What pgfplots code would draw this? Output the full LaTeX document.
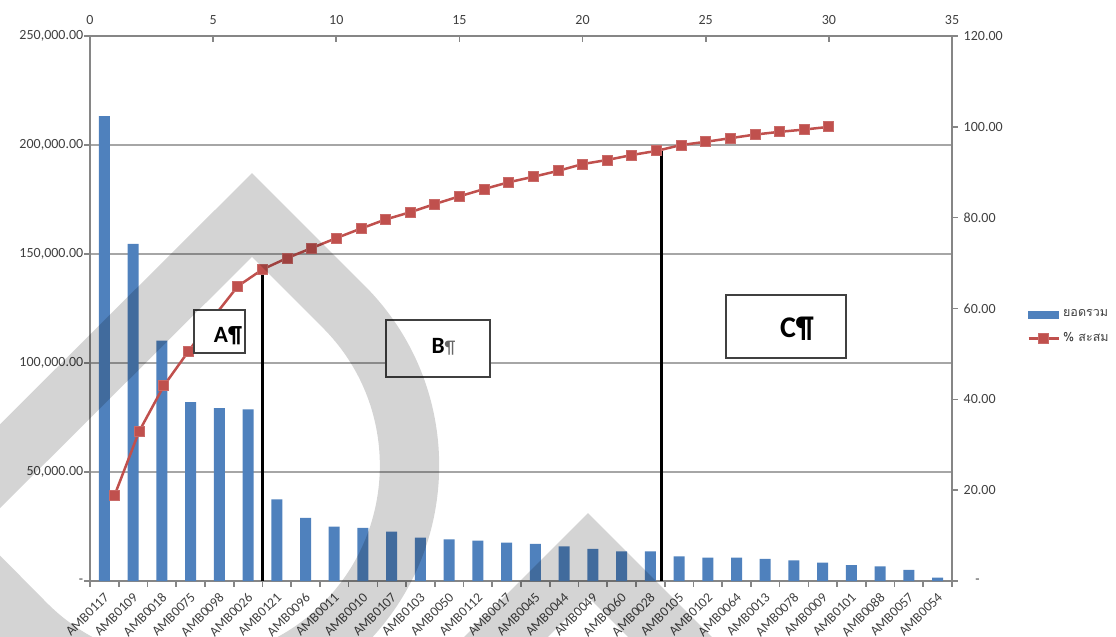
\documentclass[border=0pt]{standalone}
\usepackage{fontspec}
\setmainfont{Carlito}
\newfontfamily\thaifont[Script=Thai]{Loma}
\usepackage{pgfplots}
\pgfplotsset{compat=1.18}
\definecolor{barblue}{HTML}{4F81BD}
\definecolor{linered}{HTML}{C0504D}
\definecolor{axgray}{HTML}{868686}
\definecolor{gridgray}{HTML}{A6A6A6}
\definecolor{lblgray}{HTML}{404040}
\pgfplotsset{
  barlegend/.style={legend image code/.code={\fill[barblue] (0pt,-2pt) rectangle (18pt,2pt);}},
  linelegend/.style={legend image code/.code={\draw[##1, mark repeat=2, mark phase=2] plot coordinates {(0pt,0pt)(9pt,0pt)(18pt,0pt)};}},
}

\begin{document}
\begin{tikzpicture}
\useasboundingbox (0,0) rectangle (669.6pt,-382.2pt);
\begin{axis}[
  at={(54pt,-348.6pt)}, anchor=south west, scale only axis,
  width=517.2pt, height=327pt,
  xmin=0.5, xmax=30.5, ymin=0, ymax=250000,
  axis x line*=bottom, axis y line*=left,
  axis line style={axgray, line width=1.1pt},
  ymajorgrids, grid style={gridgray, line width=1.1pt},
  ytick={0,50000,100000,150000,200000,250000},
  yticklabels={{-\hspace{9pt}},{50,000.00},{100,000.00},{150,000.00},{200,000.00},{250,000.00}},
  scaled y ticks=false,
  xtick={1,...,30},
  xticklabels={AMB0117,AMB0109,AMB0018,AMB0075,AMB0098,AMB0026,AMB0121,AMB0096,AMB0011,AMB0010,AMB0107,AMB0103,AMB0050,AMB0112,AMB0017,AMB0045,AMB0044,AMB0049,AMB0060,AMB0028,AMB0105,AMB0102,AMB0064,AMB0013,AMB0078,AMB0009,AMB0101,AMB0088,AMB0057,AMB0054},
  minor xtick={0.5,1.5,...,30.5},
  major x tick style={draw=none},
  tick style={axgray, line width=1pt},
  tick align=outside, major tick length=3.5pt, minor tick length=3.5pt,
  xticklabel style={rotate=45, anchor=east, yshift=-4.5pt, xshift=1pt, font=\fontsize{8.2}{9}\selectfont, text=lblgray},
  yticklabel style={font=\fontsize{8.4}{10}\selectfont, text=lblgray, xshift=3pt},
  ybar, bar width=6.6pt,
]
\addplot[fill=barblue, draw=none] coordinates {
(1,213300) (2,154600) (3,110300) (4,82000) (5,79300) (6,78700)
(7,37400) (8,29000) (9,24900) (10,24400) (11,22600) (12,19900)
(13,19100) (14,18500) (15,17600) (16,17000) (17,15900) (18,14700)
(19,13600) (20,13600) (21,11300) (22,10700) (23,10700) (24,10100)
(25,9500) (26,8400) (27,7300) (28,6700) (29,5100) (30,1500)
};
\end{axis}
\begin{axis}[
  at={(54pt,-348.6pt)}, anchor=south west, scale only axis,
  width=517.2pt, height=327pt,
  xmin=0, xmax=35, ymin=0, ymax=120,
  axis x line*=top, axis y line*=right,
  axis line style={axgray, line width=1.1pt},
  xtick={0,5,...,35}, ytick={0,20,...,120},
  yticklabels={{\hspace{7pt}-},{20.00},{40.00},{60.00},{80.00},{100.00},{120.00}},
  tick style={axgray, line width=1pt}, tick align=outside, major tick length=3.5pt,
  x tick style={yshift=-3.5pt},
  xticklabel style={font=\fontsize{8.4}{10}\selectfont, text=lblgray},
  yticklabel style={font=\fontsize{8.4}{10}\selectfont, text=lblgray},
  /pgf/number format/assume math mode=true,
  legend style={at={(1.087,0.466)}, anchor=west, draw=none, fill=none,
    font=\thaifont\fontsize{7.5}{9}\selectfont, text=lblgray, row sep=4pt, inner sep=0pt},
  legend cell align=left,
  clip=false,
]
\addlegendimage{barlegend}
\addlegendentry{ยอดรวม}
\addplot[linered, line width=1.5pt, mark=square*, mark size=3pt,
  mark options={fill=linered, draw=linered!85!white, line width=0.5pt},
  linelegend]
coordinates {
(1,18.9) (2,33.0) (3,43.0) (4,50.6) (5,58.0) (6,64.9) (7,68.6) (8,71.1)
(9,73.3) (10,75.5) (11,77.6) (12,79.6) (13,81.2) (14,83.0) (15,84.7)
(16,86.3) (17,87.8) (18,89.0) (19,90.3) (20,91.8) (21,92.7) (22,93.8)
(23,94.7) (24,96.0) (25,96.7) (26,97.5) (27,98.3) (28,98.9) (29,99.4) (30,100.0)
};
\addlegendentry{\% สะสม}
\draw[black, line width=1.8pt] (axis cs:6.99,68.6) -- (axis cs:6.99,0);
\draw[black, line width=1.8pt] (axis cs:23.22,94.7) -- (axis cs:23.22,0);
\end{axis}
\begin{scope}[x=0.6pt,y=0.6pt]
\draw[fill=white, draw=black!75, line width=0.9pt] (194,-310) rectangle (245,-353);
\node[font=\bfseries\fontsize{14}{14}\selectfont] at (228,-336) {A¶};
\draw[fill=white, draw=black!75, line width=0.9pt] (386,-320) rectangle (490,-377);
\node[font=\bfseries\fontsize{14}{14}\selectfont] at (443.5,-347) {B{\color{black!60}\mdseries\fontsize{11}{11}\selectfont ¶}};
\draw[fill=white, draw=black!75, line width=0.9pt] (726,-295) rectangle (846,-358);
\node[font=\bfseries\fontsize{18}{18}\selectfont] at (797,-329) {C¶};
\begin{scope}
\clip (0,0) rectangle (1116,-637);
\draw[black, draw opacity=0.17, line width=35.6pt, line join=miter, miter limit=10]
  (-65.5,-531.5) -- (252,-215) -- (343.75,-306.75) arc[start angle=45, end angle=-135, radius=224.5] -- cycle;
\draw[black, draw opacity=0.17, line width=35.6pt, line join=miter, miter limit=10]
  (400,-743) -- (588,-555) -- (776,-743);
\end{scope}
\end{scope}
\end{tikzpicture}
\end{document}
